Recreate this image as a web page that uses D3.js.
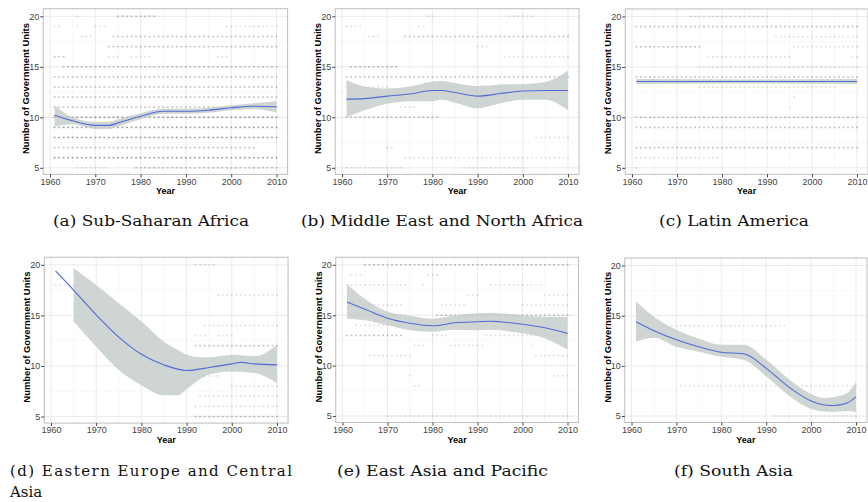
<!DOCTYPE html>
<html>
<head>
<meta charset="utf-8">
<title>Number of Government Units by region</title>
<script src="https://d3js.org/d3.v7.min.js"></script>
<style>
body { margin: 0; background: #fff; }
</style>
</head>
<body>
<script>

// ---- data ----
var xTicks = [1960, 1970, 1980, 1990, 2000, 2010];
var yTicks = [5, 10, 15, 20];

// observation runs: [units, first year, last year, darkness 1-3]
var dotsSSA = [[20,1966,1966,1],[20,1975,1983,2],
  [19,1961,1962,1],[19,1966,1966,1],[19,1970,1972,1],[19,1999,2010,1],
  [18,1967,1969,1],[18,1974,2010,2],[17,1973,2010,2],
  [16,1961,1963,2],[16,1973,1975,1],[16,1978,1982,1],[16,1997,1999,1],
  [15,1963,2010,2],[14,1961,2010,2],[13,1961,2010,2],[12,1961,2010,2],
  [11,1961,2010,2],[10,1961,2010,3],[9,1961,2010,3],[8,1961,2010,3],
  [7,1961,2005,2],[6,1961,2010,3],[5,1966,1972,1],[5,1979,2010,2]];
var dotsMENA = [[20,1979,1980,1],[20,1997,2002,1],[19,1961,1964,1],[19,1977,1978,1],
  [18,1966,1968,1],[18,1974,2010,2],[17,1990,1992,1],[16,1996,2010,1],
  [15,1962,1972,2],[14,1961,2010,2],[13,1961,1970,1],[13,1994,1996,1],
  [11,1973,1976,1],[10,1961,1981,2],[8,2003,2010,1],[7,1970,1971,1],
  [6,1974,2010,1],[5,1961,1973,1],[5,1987,2000,1]];
var dotsLA = [[20,1973,1990,1],[19,1961,2010,2],[18,1992,2010,1],
  [17,1961,1975,2],[17,1996,2010,1],[16,1977,1995,1],[16,2009,2010,1],
  [15,1975,2010,1],[14,1961,2010,2],[13,1975,2005,1],[12,1996,1996,1],
  [11,1995,1995,1],[10,1961,2010,2],[9,1961,2010,2],[7,1961,2010,2],
  [6,1961,1979,1],[5,1961,1961,1]];
var dotsEECA = [[20,1992,1996,1],[18,1961,1966,1],[17,1997,2010,1],[14,1994,2010,1],
  [13,1992,1994,1],[13,1997,2000,1],[12,1992,2010,2],[9,1987,1997,1],
  [8,2000,2010,1],[7,1993,2010,1],[6,1992,2010,1],[5,1992,2010,2]];
var dotsEAP = [[20,1965,2010,2],[19,1962,1964,1],[19,1979,1981,1],
  [18,1961,1974,1],[18,1978,1978,1],[18,1993,2004,1],[17,1988,1990,1],[17,2005,2010,1],
  [16,1965,1973,1],[16,1982,1987,1],[16,2000,2010,1],[15,1962,1974,1],[15,1981,2010,2],
  [14,1963,1973,1],[13,1961,1973,2],[13,1980,1983,1],[13,1992,2010,1],
  [12,1976,1978,1],[12,1984,1991,1],[12,2002,2002,1],[11,1966,1975,1],[11,2003,2010,1],
  [9,1975,1975,1],[9,2007,2010,1],[8,1976,1977,1],[5,1970,2010,1]];
var dotsSA = [[14,1969,1994,1],[8,1971,2010,1],[5,1992,2010,1]];

// smoothed fit and confidence band
var fitYearsSSA = [1961,1965,1970,1973,1975,1980,1985,1990,1995,2000,2005,2010];
var fitSSA  = [10.2,9.65,9.2,9.2,9.45,10.1,10.6,10.6,10.7,10.95,11.1,11.05];
var lowSSA  = [9.1,9.3,8.85,8.85,9.1,9.8,10.35,10.35,10.45,10.7,10.8,10.5];
var highSSA = [11.2,10.0,9.55,9.55,9.8,10.4,10.85,10.85,10.95,11.2,11.4,11.6];

var fitYearsMENA = [1961,1965,1970,1975,1980,1982,1985,1990,1995,2000,2005,2010];
var fitMENA  = [11.8,11.85,12.1,12.3,12.65,12.65,12.45,12.1,12.35,12.6,12.65,12.65];
var lowMENA  = [10.0,10.7,11.35,11.6,11.6,11.75,11.45,10.9,11.4,11.75,11.75,10.7];
var highMENA = [13.7,13.05,12.85,13.05,13.55,13.6,13.4,13.1,13.25,13.3,13.5,14.6];

var fitYearsLA = [1961,1985,2010];
var fitLA  = [13.55,13.55,13.55];
var lowLA  = [13.3,13.35,13.3];
var highLA = [13.8,13.75,13.8];

var fitYearsEECA = [1961,1965,1970,1975,1980,1985,1990,1995,2000,2002,2005,2010];
var fitEECA  = [19.4,17.5,15.05,12.85,11.15,10.1,9.55,9.85,10.2,10.35,10.2,10.1];
var bandYearsEECA = [1965,1970,1975,1980,1985,1988,1990,1993,1995,2000,2005,2010];
var lowEECA  = [14.4,11.9,9.6,8.1,7.1,7.1,7.7,8.7,9.15,9.45,9.3,8.3];
var highEECA = [19.65,18.0,16.2,14.4,12.4,11.6,11.1,10.85,10.85,11.1,10.95,12.1];

var fitYearsEAP = [1961,1965,1970,1975,1980,1985,1990,1993,1995,2000,2005,2010];
var fitEAP  = [16.3,15.6,14.7,14.2,13.95,14.25,14.35,14.4,14.35,14.1,13.75,13.2];
var lowEAP  = [14.65,14.5,14.0,13.5,13.35,13.55,13.5,13.55,13.5,13.2,12.7,11.6];
var highEAP = [18.1,16.6,15.35,14.95,14.65,15.0,15.2,15.25,15.2,15.0,14.85,14.85];

var fitYearsSA = [1961,1965,1970,1975,1980,1985,1990,1995,2000,2003,2005,2008,2010];
var fitSA  = [14.4,13.5,12.6,11.9,11.35,11.2,9.75,7.9,6.5,6.1,6.05,6.3,6.9];
var lowSA  = [12.4,12.8,11.9,11.4,10.9,10.6,8.95,7.05,5.7,5.45,5.4,5.5,5.4];
var highSA = [16.4,14.9,13.6,12.7,12.1,12.1,10.6,8.7,7.2,6.8,6.9,7.3,8.4];

var captions = ["(a) Sub-Saharan Africa", "(b) Middle East and North Africa", "(c) Latin America",
  "(d) Eastern Europe and Central", "(e) East Asia and Pacific", "(f) South Asia"];

// ---- layout ----
var panels = [
  {dots: dotsSSA,  fy: fitYearsSSA,  fit: fitSSA,  by: fitYearsSSA,   lo: lowSSA,  hi: highSSA,
   x0: 50, x1: 276.5, y20: 16.3, y5: 167.8},
  {dots: dotsMENA, fy: fitYearsMENA, fit: fitMENA, by: fitYearsMENA,  lo: lowMENA, hi: highMENA,
   x0: 342, x1: 568, y20: 16.3, y5: 167.8},
  {dots: dotsLA,   fy: fitYearsLA,   fit: fitLA,   by: fitYearsLA,    lo: lowLA,   hi: highLA,
   x0: 632, x1: 857, y20: 16.5, y5: 167.8},
  {dots: dotsEECA, fy: fitYearsEECA, fit: fitEECA, by: bandYearsEECA, lo: lowEECA, hi: highEECA,
   x0: 51, x1: 277, y20: 264.8, y5: 416.5},
  {dots: dotsEAP,  fy: fitYearsEAP,  fit: fitEAP,  by: fitYearsEAP,   lo: lowEAP,  hi: highEAP,
   x0: 342.5, x1: 567.5, y20: 264.8, y5: 416},
  {dots: dotsSA,   fy: fitYearsSA,   fit: fitSA,   by: fitYearsSA,    lo: lowSA,   hi: highSA,
   x0: 631.5, x1: 856, y20: 265.5, y5: 416}
];
// caption x, baseline y, width, how to fit
var captionPos = [[53, 226, 196, "spacingAndGlyphs"], [301, 226, 282, "spacingAndGlyphs"],
                  [659, 226, 150, "spacingAndGlyphs"], [10, 476, 282, "spacing"],
                  [337, 476, 211, "spacingAndGlyphs"], [674, 476, 119, "spacingAndGlyphs"]];

var svg = d3.select("body").append("svg")
  .attr("width", 868)
  .attr("height", 502);

function drawPanel(p) {
  var x = d3.scaleLinear().domain([1960, 2010]).range([p.x0, p.x1]);
  var y = d3.scaleLinear().domain([5, 20]).range([p.y5, p.y20]);
  var left = x(1958.5), right = x(2012.45), top = y(20.75), bottom = y(4.35);

  var g = svg.append("g");

  // minor grid
  [1965, 1975, 1985, 1995, 2005].forEach(function(v){
    g.append("line").attr("x1", x(v)).attr("x2", x(v)).attr("y1", top).attr("y2", bottom)
      .attr("stroke", "#f4f4f4").attr("stroke-width", 0.6);
  });
  [7.5, 12.5, 17.5].forEach(function(v){
    g.append("line").attr("x1", left).attr("x2", right).attr("y1", y(v)).attr("y2", y(v))
      .attr("stroke", "#f4f4f4").attr("stroke-width", 0.6);
  });
  // major grid
  xTicks.forEach(function(v){
    g.append("line").attr("x1", x(v)).attr("x2", x(v)).attr("y1", top).attr("y2", bottom)
      .attr("stroke", "#e8e8e8").attr("stroke-width", 0.9);
  });
  yTicks.forEach(function(v){
    g.append("line").attr("x1", left).attr("x2", right).attr("y1", y(v)).attr("y2", y(v))
      .attr("stroke", "#e8e8e8").attr("stroke-width", 0.9);
  });

  // observations
  var pts = [];
  p.dots.forEach(function(r){
    for (var yr = r[1]; yr <= r[2]; yr++) pts.push({year: yr, v: r[0], w: r[3]});
  });
  g.selectAll("rect.pt").data(pts).enter().append("rect")
    .attr("class", "pt")
    .attr("x", function(d){ return x(d.year) - 1; })
    .attr("y", function(d){ return y(d.v) - 0.8; })
    .attr("width", 2)
    .attr("height", 1.6)
    .attr("fill", "#222")
    .attr("opacity", function(d){ return [0, 0.13, 0.25, 0.4][d.w]; });

  // confidence band
  var band = p.by.map(function(yr, i){ return {year: yr, lo: p.lo[i], hi: p.hi[i]}; });
  g.append("path").datum(band)
    .attr("fill", "#c3cbc7")
    .attr("opacity", 0.8)
    .attr("d", d3.area()
      .x(function(d){ return x(d.year); })
      .y0(function(d){ return y(d.lo); })
      .y1(function(d){ return y(d.hi); })
      .curve(d3.curveMonotoneX));

  // fitted line
  var line = p.fy.map(function(yr, i){ return {year: yr, v: p.fit[i]}; });
  g.append("path").datum(line)
    .attr("fill", "none")
    .attr("stroke", "#4f6bd8")
    .attr("stroke-width", 1.1)
    .attr("d", d3.line()
      .x(function(d){ return x(d.year); })
      .y(function(d){ return y(d.v); })
      .curve(d3.curveMonotoneX));

  // panel border
  g.append("rect").attr("x", left).attr("y", top)
    .attr("width", right - left).attr("height", bottom - top)
    .attr("fill", "none").attr("stroke", "#bdbdbd").attr("stroke-width", 1);

  // axes
  var ax = g.append("g").attr("transform", "translate(0," + bottom + ")")
    .call(d3.axisBottom(x).tickValues(xTicks).tickSize(3).tickPadding(1).tickFormat(d3.format("d")));
  var ay = g.append("g").attr("transform", "translate(" + left + ",0)")
    .call(d3.axisLeft(y).tickValues(yTicks).tickSize(3).tickPadding(1));
  [ax, ay].forEach(function(a){
    a.select(".domain").remove();
    a.selectAll("line").attr("stroke", "#444");
    a.selectAll("text").attr("fill", "#444")
      .style("font-family", "'Liberation Sans', Arial, sans-serif").style("font-size", "9px");
  });

  g.append("text")
    .attr("x", (left + right) / 2).attr("y", bottom + 20)
    .attr("text-anchor", "middle")
    .style("font-family", "'Liberation Sans', Arial, sans-serif")
    .style("font-weight", "bold").style("font-size", "9px")
    .text("Year");

  g.append("text")
    .attr("transform", "translate(" + (left - 14) + "," + ((top + bottom) / 2 - 3) + ") rotate(-90)")
    .attr("text-anchor", "middle")
    .attr("textLength", 131).attr("lengthAdjust", "spacingAndGlyphs")
    .style("font-family", "'Liberation Sans', Arial, sans-serif")
    .style("font-weight", "bold").style("font-size", "9px")
    .text("Number of Government Units");
}

panels.forEach(drawPanel);

captions.forEach(function(c, i){
  svg.append("text")
    .attr("x", captionPos[i][0]).attr("y", captionPos[i][1])
    .attr("textLength", captionPos[i][2]).attr("lengthAdjust", captionPos[i][3])
    .style("font-family", "'DejaVu Serif', 'Liberation Serif', serif")
    .style("font-size", "15px").attr("fill", "#111")
    .text(c);
});
svg.append("text")
  .attr("x", 10).attr("y", 497)
  .style("font-family", "'DejaVu Serif', 'Liberation Serif', serif")
  .style("font-size", "15px").attr("fill", "#111")
  .text("Asia");

</script>
</body>
</html>
